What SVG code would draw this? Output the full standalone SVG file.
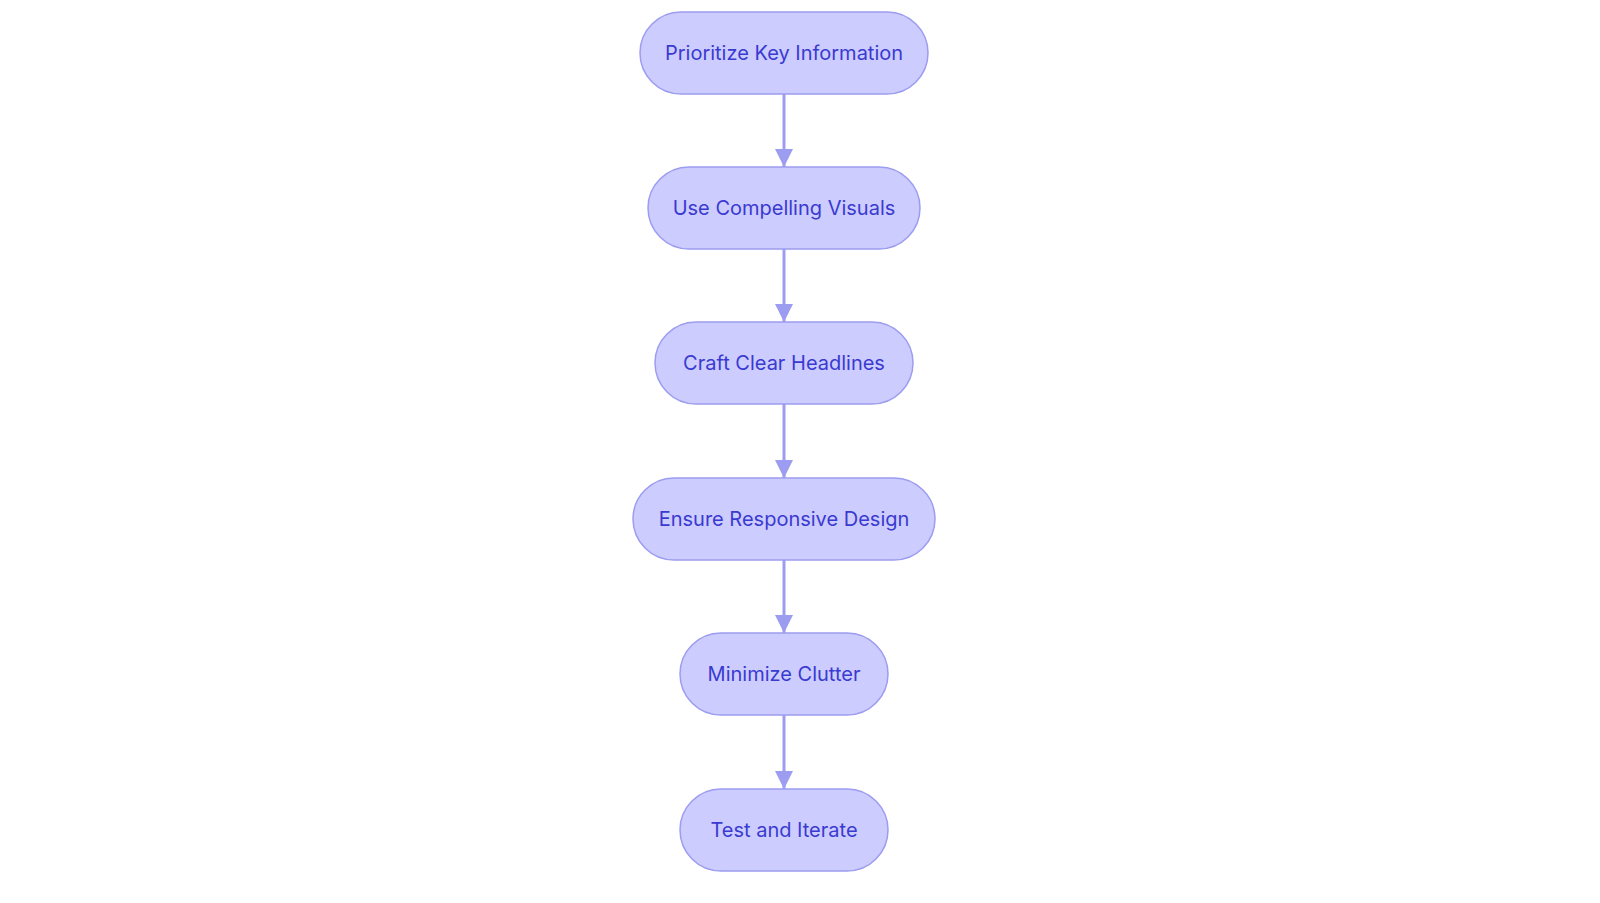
<svg xmlns="http://www.w3.org/2000/svg" width="1600" height="903" viewBox="0 0 1600 903">
<style>
.n rect{fill:#ccccff;stroke:#9c9cf0;stroke-width:1.5}
.n text{font-family:Inter,"Open Sans",sans-serif;font-size:20px;fill:#3a3ad0;text-anchor:middle;dominant-baseline:central}
.c line{stroke:#9c9cf0;stroke-width:3}
</style>
<defs><marker id="a" viewBox="0 0 10 10" refX="10" refY="5" markerWidth="6" markerHeight="6" markerUnits="strokeWidth" orient="auto"><path d="M0,0L10,5L0,10z" fill="#9c9cf0"/></marker></defs>
<rect width="1600" height="903" fill="#fff"/>
<g class="c">
<line x1="784" y1="94" x2="784" y2="167" marker-end="url(#a)"/>
<line x1="784" y1="249" x2="784" y2="322" marker-end="url(#a)"/>
<line x1="784" y1="404" x2="784" y2="478" marker-end="url(#a)"/>
<line x1="784" y1="560" x2="784" y2="633" marker-end="url(#a)"/>
<line x1="784" y1="715" x2="784" y2="789" marker-end="url(#a)"/>
</g>
<g class="n" id="n1"><rect x="640" y="12" width="288" height="82" rx="41"/><text x="784" y="53">Prioritize Key Information</text></g>
<g class="n" id="n2"><rect x="648" y="167" width="272" height="82" rx="41"/><text x="784" y="208">Use Compelling Visuals</text></g>
<g class="n" id="n3"><rect x="655" y="322" width="258" height="82" rx="41"/><text x="784" y="363">Craft Clear Headlines</text></g>
<g class="n" id="n4"><rect x="633" y="478" width="302" height="82" rx="41"/><text x="784" y="519">Ensure Responsive Design</text></g>
<g class="n" id="n5"><rect x="680" y="633" width="208" height="82" rx="41"/><text x="784" y="674">Minimize Clutter</text></g>
<g class="n" id="n6"><rect x="680" y="789" width="208" height="82" rx="41"/><text x="784" y="830">Test and Iterate</text></g>
</svg>
